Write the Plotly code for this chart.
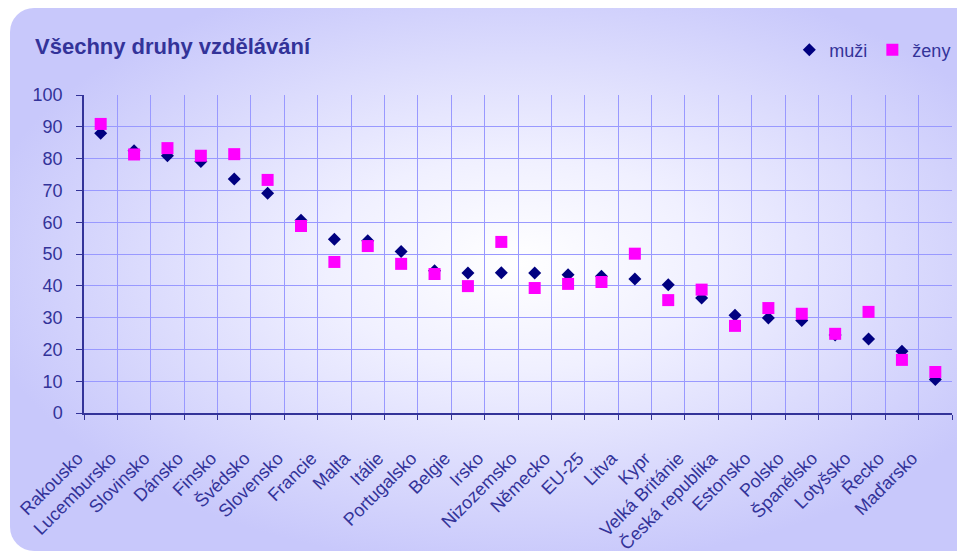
import base64
import plotly.graph_objects as go

# data (percent)
zeme = ["Rakousko", "Lucembursko", "Slovinsko", "Dánsko", "Finsko", "Švédsko",
        "Slovensko", "Francie", "Malta", "Itálie", "Portugalsko", "Belgie", "Irsko",
        "Nizozemsko", "Německo", "EU-25", "Litva", "Kypr", "Velká Británie",
        "Česká republika", "Estonsko", "Polsko", "Španělsko", "Lotyšsko", "Řecko",
        "Maďarsko"]
muzi = [88.0, 82.5, 80.9, 79.1, 73.6, 69.1, 60.6, 54.6, 54.2, 50.8, 44.7, 44.0, 44.1,
        44.0, 43.5, 43.0, 42.1, 40.3, 36.2, 30.7, 29.9, 29.1, 24.5, 23.3, 19.4, 10.5]
zeny = [90.9, 81.3, 83.3, 80.9, 81.4, 73.3, 58.8, 47.5, 52.5, 46.9, 43.7, 39.9, 53.8,
        39.3, 40.6, 41.2, 50.1, 35.5, 38.8, 27.4, 33.0, 31.2, 24.9, 31.8, 16.7, 12.9]
y_ticks = list(range(0, 101, 10))

W, H = 957, 553
ML, MR, MT, MB = 84, 5, 95, 140
TXT = "#333399"
FONT = "Liberation Sans, Arial, sans-serif"

# rounded lavender panel with a soft radial highlight, used as a background image
svg = f'''<svg xmlns="http://www.w3.org/2000/svg" width="{W}" height="{H}" viewBox="0 0 {W} {H}">
<defs><radialGradient id="g" cx="0.52" cy="0.47" r="0.56">
<stop offset="0" stop-color="#ffffff"/><stop offset="0.35" stop-color="#f0f0ff"/>
<stop offset="1" stop-color="#c8c8fb"/></radialGradient></defs>
<rect x="10" y="8" width="{W + 20}" height="{H - 10}" rx="24" ry="24" fill="url(#g)"/>
</svg>'''
src = "data:image/svg+xml;base64," + base64.b64encode(svg.encode("utf-8")).decode()

pw, ph = W - ML - MR, H - MT - MB

fig = go.Figure()
fig.add_trace(go.Scatter(x=zeme, y=muzi, name="muži", mode="markers",
                         marker=dict(symbol="diamond", size=10, color="#000080")))
fig.add_trace(go.Scatter(x=zeme, y=zeny, name="ženy", mode="markers",
                         marker=dict(symbol="square", size=12, color="#ff00ff")))

fig.update_layout(
    width=W, height=H,
    margin=dict(l=ML, r=MR, t=MT, b=MB, autoexpand=False),
    paper_bgcolor="white", plot_bgcolor="rgba(0,0,0,0)",
    font=dict(family=FONT, color=TXT, size=17),
    title=dict(text="<b>Všechny druhy vzdělávání</b>", x=35 / W, xanchor="left",
               y=1 - 46 / H, yanchor="middle", font=dict(size=22, color=TXT)),
    legend=dict(orientation="h", x=1.005, xanchor="right", y=1 + (MT - 50) / ph,
                yanchor="middle", bgcolor="rgba(0,0,0,0)", font=dict(size=18),
                itemwidth=30),
    images=[dict(source=src, xref="paper", yref="paper", x=-ML / pw, y=1 + MT / ph,
                 sizex=W / pw, sizey=H / ph, sizing="stretch", layer="below")],
    showlegend=True,
)
fig.update_xaxes(type="category", range=[-0.5, len(zeme) - 0.5], tickson="boundaries",
                 ticks="outside", ticklen=5,
                 tickcolor=TXT, showline=True, linecolor=TXT, linewidth=1.5,
                 showgrid=True, gridcolor="#9999ff", gridwidth=1, tickangle=-45,
                 ticklabelstandoff=26, ticklabelshift=-23, tickfont=dict(size=18),
                 automargin=False)
fig.update_yaxes(range=[0, 100], tickvals=y_ticks, ticks="outside", ticklen=6,
                 tickcolor=TXT, showline=True, linecolor=TXT, linewidth=1.5,
                 showgrid=True, gridcolor="#9999ff", gridwidth=1, zeroline=False,
                 ticklabelstandoff=10, tickfont=dict(size=18), automargin=False)

# page without the browser's default body margin
fig.write_html("out.html", config={"displayModeBar": False},
               post_script="document.body.style.margin='0';")
